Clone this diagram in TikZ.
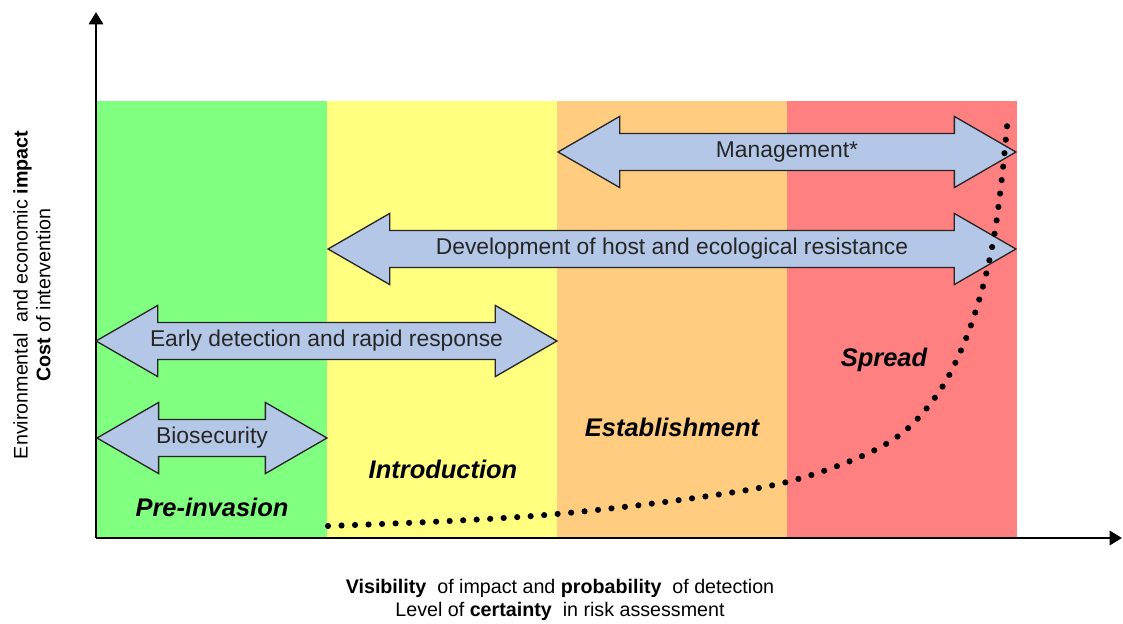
\documentclass[tikz,border=0pt]{standalone}
\usepackage{fontspec}
\setmainfont{Liberation Sans}
\usetikzlibrary{shapes.arrows,arrows.meta}

\definecolor{preinv}{RGB}{128,255,128}
\definecolor{intro}{RGB}{255,255,128}
\definecolor{estab}{RGB}{255,204,128}
\definecolor{spreadred}{RGB}{255,128,128}
\definecolor{actionfill}{RGB}{180,199,231}

\begin{document}
\begin{tikzpicture}[x=0.02cm, y=-0.02cm,
    action/.style={double arrow, draw=black!85, line width=0.75pt, fill=actionfill,
        double arrow tip angle=60, double arrow head extend=0.34cm, minimum width=1.4cm,
        inner xsep=0pt, inner ysep=4.1pt, text height=9.5pt, text depth=2.7pt,
        font=\fontsize{13}{15}\selectfont, text=black!85},
    stage/.style={font=\fontsize{14.5}{17}\selectfont\bfseries\itshape, anchor=base},
    axislabel/.style={font=\fontsize{11.2}{13}\selectfont, align=center}]
    \useasboundingbox (0,0) rectangle (1123,624);

    % Invasion stages
    \fill[preinv] (96,101) rectangle (327,538);
    \fill[intro] (327,101) rectangle (557,538);
    \fill[estab] (557,101) rectangle (787,538);
    \fill[spreadred] (787,101) rectangle (1017,538);

    % Axes
    \coordinate (origin) at (96,538);
    \coordinate (ytop) at (96,12);
    \coordinate (xend) at (1122,538);
    \draw[line width=1.7pt, -{Triangle[length=7pt,width=8pt]}] (origin) -- (ytop);
    \draw[line width=1.7pt, -{Triangle[length=7pt,width=8pt]}] (origin) -- (xend);

    % Axis labels
    \node[axislabel, rotate=90] (ylab) at (32,295)
        {Environmental\ \ and\ economic\ \textbf{impact}\\ \textbf{Cost} of intervention};
    \node[axislabel] (xlab) at (560,600)
        {\textbf{Visibility}\ \ of impact\ and\ \textbf{probability}\ \ of detection\\
         Level of \textbf{certainty}\ \ in risk assessment};

    % Actions
    \node[action, minimum height=9.16cm] (mgmt) at (787,152) {Management*};
    \node[action, minimum height=13.76cm] (resist) at (672,249) {Development of host and ecological resistance};
    \node[action, minimum height=9.22cm] (edrr) at (326.5,341) {Early detection and rapid response};
    \node[action, minimum height=4.6cm] (biosec) at (212,438) {Biosecurity};

    % Stage names
    \node[stage] (pre) at (212,517) {Pre-invasion};
    \node[stage] (introduction) at (443,479) {Introduction};
    \node[stage] (establishment) at (672,437) {Establishment};
    \node[stage] (spread) at (884,367) {Spread};

    % Impact curve
    \draw[line width=3.5pt, line cap=round, dash pattern=on 0pt off 7.7pt]
        plot[smooth, tension=0.55] coordinates {(328,526) (450,521) (557,514) (680,500)
        (783,483) (860,457) (906,430) (941,389) (965,341) (982,290) (994,237)
        (1002,177) (1008,116)};
\end{tikzpicture}
\end{document}
